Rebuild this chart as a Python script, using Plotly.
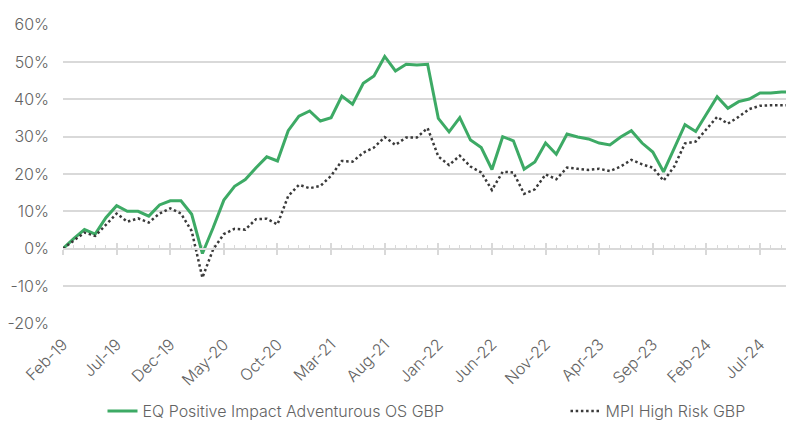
import pandas as pd
import plotly.graph_objects as go

# Monthly cumulative performance (%), Feb-19 .. Oct-24
months = pd.date_range("2019-02-01", periods=69, freq="MS").strftime("%b-%y").tolist()

eq_positive_impact = [
    0.0, 2.7, 5.1, 3.9, 8.3, 11.5, 10.0, 10.0, 8.7, 11.7,
    12.8, 12.8, 9.2, -1.3, 5.6, 13.0, 16.7, 18.5, 21.7, 24.6,
    23.5, 31.6, 35.5, 36.9, 34.2, 35.1, 40.9, 38.7, 44.3, 46.3,
    51.5, 47.6, 49.4, 49.2, 49.4, 34.9, 31.3, 35.1, 29.1, 27.1,
    21.2, 30.0, 28.9, 21.3, 23.2, 28.3, 25.3, 30.7, 29.9, 29.4,
    28.3, 27.8, 29.9, 31.6, 28.3, 25.9, 20.6, 27.1, 33.2, 31.4,
    36.0, 40.7, 37.6, 39.4, 40.1, 41.7, 41.7, 42.0, 42.0,
]

mpi_high_risk = [
    0.0, 2.1, 4.3, 3.4, 6.4, 9.4, 7.2, 8.1, 7.0, 9.4,
    10.8, 9.4, 4.7, -7.8, -0.2, 3.9, 5.3, 5.1, 7.9, 8.0,
    6.5, 14.1, 17.1, 16.2, 16.8, 19.5, 23.5, 23.3, 25.7, 27.1,
    29.9, 27.8, 29.8, 29.8, 32.3, 24.7, 22.4, 24.9, 22.0, 20.4,
    15.7, 20.6, 20.4, 14.7, 15.9, 19.9, 18.6, 21.7, 21.4, 21.1,
    21.4, 20.8, 22.0, 23.8, 22.6, 21.7, 18.2, 22.0, 28.2, 28.7,
    32.0, 35.3, 33.5, 35.3, 37.4, 38.3, 38.4, 38.4, 38.4,
]

y_ticks = [-20, -10, 0, 10, 20, 30, 40, 50, 60]
y_tick_text = ["-20%", "-10%", "0%", "10%", "20%", "30%", "40%", "50%", "60%"]

idx = list(range(len(months)))
label_idx = idx[::5][:14]
label_text = [months[i] for i in label_idx]

GREEN = "#3daa65"
DOTS = "#3a3a3a"
GRID = "#d9d9d9"
TEXT = "#636363"
FONT = "Inter"
TXT_FONT = dict(family=FONT, size=16, color=TEXT, weight=300)

x_range = [0, 67.42]
y_range = [-20.2, 60.2]
zero_pos = (0 - y_range[0]) / (y_range[1] - y_range[0])

fig = go.Figure()
fig.add_trace(go.Scatter(
    x=idx, y=eq_positive_impact, mode="lines",
    name="EQ Positive Impact Adventurous OS GBP",
    line=dict(color=GREEN, width=3),
    legendwidth=418,
))
fig.add_trace(go.Scatter(
    x=idx, y=mpi_high_risk, mode="lines",
    name="MPI High Risk GBP",
    line=dict(color=DOTS, width=2.5, dash="2.5px,2.7px"),
    legendwidth=150,
))
# carrier traces for the tick axes drawn along the 0% line
for ax in ("x2", "x3"):
    fig.add_trace(go.Scatter(
        x=idx, y=mpi_high_risk, xaxis=ax, mode="lines",
        line=dict(width=0, color="rgba(0,0,0,0)"),
        showlegend=False, hoverinfo="skip",
    ))

fig.update_layout(
    width=786, height=423,
    margin=dict(l=63, r=0, t=24, b=99, autoexpand=False),
    paper_bgcolor="white", plot_bgcolor="white",
    font=TXT_FONT,
    showlegend=True,
    legend=dict(
        orientation="h", xref="container", x=102.5 / 786, xanchor="left",
        yref="container", y=(423 - 411) / 423, yanchor="middle",
        font=TXT_FONT, entrywidthmode="pixels",
        bgcolor="rgba(0,0,0,0)",
    ),
    xaxis=dict(
        range=x_range, tickmode="array", tickvals=label_idx, ticktext=label_text,
        tickangle=-45, showgrid=False, zeroline=False, showline=False,
        ticks="", ticklabelstandoff=7, tickfont=TXT_FONT,
    ),
    xaxis2=dict(
        overlaying="x", anchor="free", position=zero_pos, range=x_range,
        tickmode="array", tickvals=label_idx, showticklabels=False,
        showgrid=False, zeroline=False, showline=True, linecolor=GRID, linewidth=1.5,
        ticks="inside", ticklen=5, tickcolor=GRID, tickwidth=1.5,
        minor=dict(dtick=1, tick0=0, ticks="inside", ticklen=3,
                   tickcolor=GRID, tickwidth=1.2, showgrid=False),
    ),
    xaxis3=dict(
        overlaying="x", anchor="free", position=zero_pos, range=x_range,
        tickmode="array", tickvals=label_idx, showticklabels=False,
        showgrid=False, zeroline=False, showline=False,
        ticks="outside", ticklen=5, tickcolor=GRID, tickwidth=1.5,
    ),
    yaxis=dict(
        range=y_range, tickmode="array", tickvals=y_ticks, ticktext=y_tick_text,
        showgrid=True, gridcolor=GRID, gridwidth=1.5, zeroline=False,
        showline=False, ticks="", ticklabelstandoff=13, tickfont=TXT_FONT,
    ),
)

fig.write_html("out.html")
